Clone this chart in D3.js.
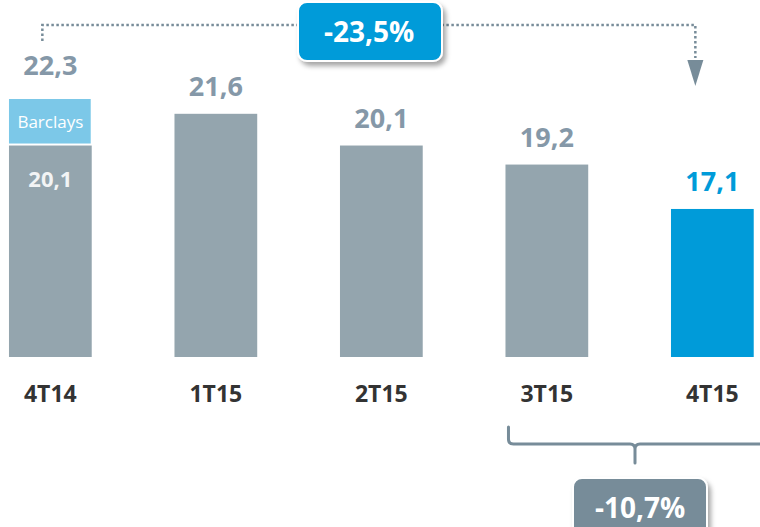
<!DOCTYPE html>
<html>
<head>
<meta charset="utf-8">
<script src="https://cdn.jsdelivr.net/npm/d3@7"></script>
<style>
  html, body { margin: 0; padding: 0; background: #ffffff; }
  svg { display: block; }
  text { font-family: "Open Sans", "Noto Sans", sans-serif; }
</style>
</head>
<body>
<svg id="chart" width="760" height="527"></svg>
<script>
// ---- data ----
const categories = ["4T14", "1T15", "2T15", "3T15", "4T15"];
const baseValues = [20.1, 21.6, 20.1, 19.2, 17.1];
const barclaysValues = [2.2, 0, 0, 0, 0];           // stacked extra on 4T14 (total 22,3)
const totalLabels = ["22,3", "21,6", "20,1", "19,2", "17,1"];
const innerLabels = ["20,1", "", "", "", ""];
const segmentLabel = "Barclays";
const changeTotal = "-23,5%";
const changeQuarter = "-10,7%";

// ---- colours ----
const cGray = "#94a5ae";
const cBlue = "#009bd9";
const cLight = "#7cc8e8";
const cLabel = "#8598a8";
const cAxis = "#333333";
const cAnno = "#778c99";

const svg = d3.select("#chart");

const x = d3.scaleBand()
  .domain(categories)
  .range([-32.4, 795.1])
  .paddingInner(0.5)
  .paddingOuter(0.25);

const y = d3.scaleLinear().domain([10.1, 22.3]).range([357, 99]);

const defs = svg.append("defs");
const f = defs.append("filter").attr("id", "shadow")
  .attr("x", "-20%").attr("y", "-20%").attr("width", "150%").attr("height", "160%");
f.append("feDropShadow").attr("dx", 3).attr("dy", 4).attr("stdDeviation", 2.5)
  .attr("flood-color", "#000").attr("flood-opacity", 0.35);

// ---- bars ----
const data = categories.map((c, i) => ({
  cat: c, base: baseValues[i], extra: barclaysValues[i],
  total: baseValues[i] + barclaysValues[i],
  label: totalLabels[i], inner: innerLabels[i], last: i === categories.length - 1
}));

svg.append("g").selectAll("rect.base").data(data).join("rect")
  .attr("class", "base")
  .attr("x", d => x(d.cat))
  .attr("width", x.bandwidth())
  .attr("y", d => y(d.base))
  .attr("height", d => y.range()[0] - y(d.base))
  .attr("fill", d => d.last ? cBlue : cGray);

const seg = data.filter(d => d.extra > 0);
svg.append("g").selectAll("rect.extra").data(seg).join("rect")
  .attr("class", "extra")
  .attr("x", d => x(d.cat))
  .attr("width", x.bandwidth() - 1)
  .attr("y", d => y(d.total))
  .attr("height", d => y(d.base) - y(d.total) - 2)
  .attr("fill", cLight);

svg.append("g").selectAll("text.seg").data(seg).join("text")
  .attr("x", d => x(d.cat) + x.bandwidth() / 2)
  .attr("y", d => (y(d.base) + y(d.total)) / 2 + 6)
  .attr("text-anchor", "middle")
  .attr("fill", "#ffffff")
  .attr("font-size", 17)
  .text(segmentLabel);

svg.append("g").selectAll("text.inner").data(data.filter(d => d.inner)).join("text")
  .attr("x", d => x(d.cat) + x.bandwidth() / 2)
  .attr("y", d => y(d.base) + 41)
  .attr("text-anchor", "middle")
  .attr("fill", "#f2f4f5")
  .attr("font-size", 22)
  .attr("font-weight", 700)
  .text(d => d.inner);

// ---- value labels ----
svg.append("g").selectAll("text.val").data(data).join("text")
  .attr("x", d => x(d.cat) + x.bandwidth() / 2)
  .attr("y", d => y(d.total) - (d.extra > 0 ? 24 : 18))
  .attr("text-anchor", "middle")
  .attr("fill", d => d.last ? cBlue : cLabel)
  .attr("font-size", 27)
  .attr("font-weight", 700)
  .text(d => d.label);

// ---- category axis ----
svg.append("g").selectAll("text.cat").data(categories).join("text")
  .attr("x", d => x(d) + x.bandwidth() / 2)
  .attr("y", 402)
  .attr("text-anchor", "middle")
  .attr("fill", cAxis)
  .attr("font-size", 23)
  .attr("font-weight", 700)
  .text(d => d);

// ---- top annotation ----
const xFirst = x(categories[0]) + x.bandwidth() / 2 - 8;
const xLast = x(categories[4]) + x.bandwidth() / 2 - 17;
svg.append("path")
  .attr("d", `M${xFirst},41 V25 H${xLast} V58`)
  .attr("fill", "none")
  .attr("stroke", cAnno)
  .attr("stroke-width", 2.5)
  .attr("stroke-dasharray", "2.5,2.5");
svg.append("path")
  .attr("d", `M${xLast - 8},60 L${xLast + 8},60 L${xLast},86 Z`)
  .attr("fill", cAnno);

const topBox = svg.append("g");
topBox.append("rect")
  .attr("x", 298).attr("y", 2).attr("width", 144).attr("height", 59)
  .attr("rx", 9).attr("ry", 9)
  .attr("fill", cBlue).attr("stroke", "#ffffff").attr("stroke-width", 2)
  .attr("filter", "url(#shadow)");
topBox.append("text")
  .attr("x", 369).attr("y", 42)
  .attr("text-anchor", "middle")
  .attr("fill", "#ffffff")
  .attr("font-size", 28)
  .attr("font-weight", 700)
  .text(changeTotal);

// ---- bottom brace ----
const bx0 = x(categories[3]) + 3;
const bmid = 635;
svg.append("path")
  .attr("d", `M${bx0},427 V439 Q${bx0},444 ${bx0 + 5},444 H${bmid - 5} Q${bmid},444 ${bmid},449 V463 M${bmid},449 Q${bmid},444 ${bmid + 5},444 H765`)
  .attr("fill", "none")
  .attr("stroke", cAnno)
  .attr("stroke-width", 3)
  .attr("stroke-linecap", "round");

const botBox = svg.append("g");
botBox.append("rect")
  .attr("x", 573).attr("y", 478).attr("width", 134).attr("height", 70)
  .attr("rx", 9).attr("ry", 9)
  .attr("fill", cAnno).attr("stroke", "#ffffff").attr("stroke-width", 2)
  .attr("filter", "url(#shadow)");
botBox.append("text")
  .attr("x", 640).attr("y", 518)
  .attr("text-anchor", "middle")
  .attr("fill", "#ffffff")
  .attr("font-size", 28)
  .attr("font-weight", 700)
  .text(changeQuarter);
</script>
</body>
</html>
